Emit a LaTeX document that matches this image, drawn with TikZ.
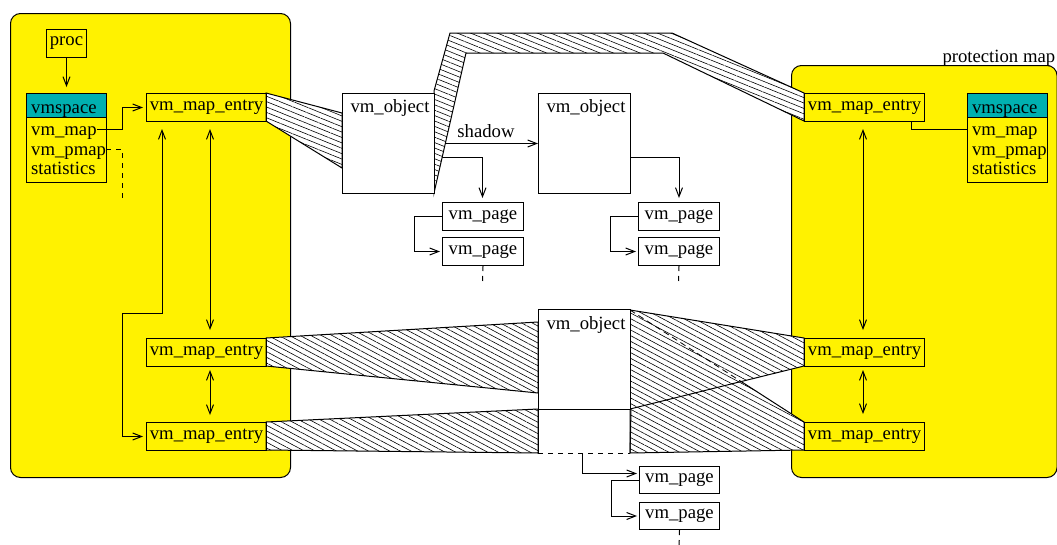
\documentclass[tikz,border=0pt]{standalone}
\usepackage{fontspec}
\setmainfont{Liberation Serif}
\usetikzlibrary{arrows.meta,patterns.meta}
\definecolor{vmteal}{RGB}{0,176,176}
\begin{document}
\begin{tikzpicture}[x=1pt,y=-1pt,line width=1pt,
  every node/.style={font=\fontsize{18.7}{22}\selectfont,inner sep=0pt},
  region/.style={draw,fill=yellow,rounded corners=10pt,anchor=north west},
  entry/.style={draw,minimum width=120,minimum height=28,anchor=north west},
  objbox/.style={draw,fill=white,minimum width=92,minimum height=100,anchor=north west},
  pagebox/.style={draw,fill=white,minimum width=81,minimum height=28,anchor=north west},
  vshead/.style={draw,fill=vmteal,minimum width=80,minimum height=24,anchor=north west},
  vsbody/.style={draw,minimum width=80,minimum height=65,anchor=north west},
  txt/.style={anchor=base west},
  ctxt/.style={anchor=base},
  bandtop/.style={preaction={fill=white},pattern={Lines[angle=-22,distance=5pt,line width=0.6pt]}},
  bandlow/.style={preaction={fill=white},pattern={Lines[angle=-28,distance=5pt,line width=0.6pt]}},
  arr/.style={-{Straight Barb[length=9pt,width=7pt]}},
  dbl/.style={{Straight Barb[length=9pt,width=7pt]}-{Straight Barb[length=9pt,width=7pt]}},
  dsh/.style={dash pattern=on 5pt off 5pt}
]
\useasboundingbox (0,0) rectangle (1057,544);

% regions
\node[region,minimum width=280,minimum height=464] (lmap) at (10,13) {};
\node[region,minimum width=265.5,minimum height=412] (rmap) at (791,65) {};
\node[txt] (plabel) at (942,62) {protection map};

% objects (boxes first, to name them)
\node[objbox] (obj1) at (342,93) {};
\node[objbox] (obj2) at (538,93) {};
\node[objbox] (obj3) at (538,309) {};
\coordinate (o3bl) at (538,453);
\coordinate (o3br) at (630,453);

% connectors that start under the bands
\draw[arr] (obj1.east) -- (obj2.west);
\draw[arr,shorten >=4pt] ([yshift=-14pt]obj1.east) -| (482.5,202);

% bands
\draw[bandtop] (266,93) -- (342,113) -- (342,168) -- (266,121) -- cycle;
\draw[bandtop] (434,91) -- (450,33) -- (672,33) -- (804,93) -- (804,121) -- (663,53) -- (466,53) -- (434,193) -- cycle;
\draw[bandlow] (266,338) -- (538,322) -- (538,393) -- (266,366) -- cycle;
\draw[bandlow] (266,422) -- (538,409) -- (538,453) -- (266,450) -- cycle;
\path[bandlow] (630,310) -- (804,422) -- (804,450) -- (630,453) -- cycle;
\draw[bandlow] (630,310) -- (804,338) -- (804,366) -- (630,409) -- cycle;
\draw (741.1,381.5) -- (804,422) -- (804,450) -- (630,453) -- (630,409);
\draw[line width=0.8pt,dash pattern=on 6pt off 4pt] (630,310) -- (741.1,381.5);

% redraw object boxes on top
\node[objbox] at (342,93) {};
\node[objbox] at (538,93) {};
\node[objbox] at (538,309) {};
\draw (obj3.south west) -- (o3bl);
\draw (obj3.south east) -- (o3br);
\draw[dsh] (o3bl) -- (o3br);
\node[ctxt] (obj1t) at (390,112) {vm\_object};
\node[ctxt] (obj2t) at (586,112) {vm\_object};
\node[ctxt] (obj3t) at (586,329) {vm\_object};
\node[ctxt] (shadowt) at (486,137) {shadow};

% left map contents
\node[draw,minimum width=40,minimum height=28,anchor=north west] (proc) at (46,29) {proc};
\node[vshead] (lvsh) at (26,93) {};
\node[vsbody] (lvsb) at (26,117) {};
\node[txt] (lvsp) at (30.7,113) {vmspace};
\node[txt] (lvmap) at (30.7,135) {vm\_map};
\node[txt] (lvpmap) at (30.7,155) {vm\_pmap};
\node[txt] (lvstat) at (30.7,174) {statistics};
\node[entry] (lent1) at (146,93) {vm\_map\_entry};
\node[entry] (lent2) at (146,338) {vm\_map\_entry};
\node[entry] (lent3) at (146,422) {vm\_map\_entry};

\draw[arr,shorten >=6pt] (proc.south) -- (lvsh.north -| proc.south);
\draw[arr,shorten >=3pt] (lvmap.east |- 0,129) -- (122,129) |- (lent1.west);
\coordinate (pmapend) at (122,198);
\draw[dsh] (lvpmap.east |- 0,149) -| (pmapend);
\draw[dbl,shorten <=7pt,shorten >=3pt] (lent1.south -| 162,0) -- (162,313) -- (122,313) |- (lent3.west);
\draw[dbl,shorten <=7pt,shorten >=8pt] (lent1.south -| 210,0) -- (lent2.north -| 210,0);
\draw[dbl,shorten <=3pt,shorten >=7pt] (lent2.south -| 210,0) -- (lent3.north -| 210,0);

% right map contents
\node[entry] (rent1) at (804,93) {vm\_map\_entry};
\node[entry] (rent2) at (804,338) {vm\_map\_entry};
\node[entry] (rent3) at (804,422) {vm\_map\_entry};
\node[vshead] (rvsh) at (967,93) {};
\node[vsbody] (rvsb) at (967,117) {};
\node[txt] (rvsp) at (971.5,113) {vmspace};
\node[txt] (rvmap) at (971.5,135) {vm\_map};
\node[txt] (rvpmap) at (971.5,155) {vm\_pmap};
\node[txt] (rvstat) at (971.5,174) {statistics};
\draw (rent1.south -| 911,0) -- (911,129) -- (rvsb.west |- 0,129);
\draw[dbl,shorten <=7pt,shorten >=8pt] (rent1.south -| 863,0) -- (rent2.north -| 863,0);
\draw[dbl,shorten <=3pt,shorten >=8pt] (rent2.south -| 863,0) -- (rent3.north -| 863,0);

% pages
\node[pagebox] (p1a) at (442,202) {vm\_page};
\node[pagebox] (p1b) at (442,237) {vm\_page};
\node[pagebox] (p2a) at (638,202) {vm\_page};
\node[pagebox] (p2b) at (638,237) {vm\_page};
\node[pagebox,minimum width=80,minimum height=27] (p3a) at (639,466) {vm\_page};
\node[pagebox,minimum width=80,minimum height=27] (p3b) at (639,502) {vm\_page};

\draw[arr,shorten >=4pt] ([yshift=-14pt]obj2.east) -| (p2a.north);
\draw[arr,shorten >=2pt] (p1a.west) -- ++(-28,0) |- (p1b.west);
\draw[arr,shorten >=2pt] (p2a.west) -- ++(-28,0) |- (p2b.west);
\draw[arr,shorten >=2pt] (p3a.west) -- ++(-28,0) |- (p3b.west);
\coordinate (o3mid) at (582,453);
\draw[arr,shorten >=2pt] (o3mid) |- ([yshift=6.5pt]p3a.west);
\coordinate (p1end) at (482.5,285);
\coordinate (p2end) at (678.5,285);
\coordinate (p3end) at (679,550);
\draw[dsh] (p1b.south) -- (p1end);
\draw[dsh] (p2b.south) -- (p2end);
\draw[dsh] (p3b.south) -- (p3end);
\end{tikzpicture}
\end{document}
